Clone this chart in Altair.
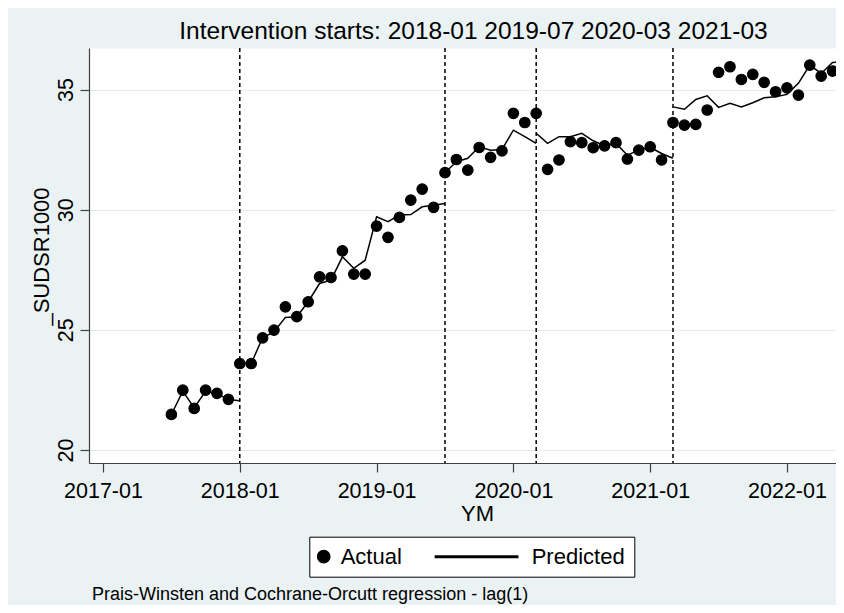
import altair as alt
import pandas as pd

FONT = "Liberation Sans"

# ---- data ----
first_month = "2017-07"
last_month = "2022-06"
actual = [
    21.48, 22.49, 21.73, 22.49, 22.36, 22.11,                               # 2017-07..12
    23.60, 23.60, 24.67, 24.99, 25.96, 25.55, 26.17, 27.21, 27.18, 28.29, 27.32, 27.32,  # 2018
    29.32, 28.85, 29.68, 30.40, 30.86, 30.10, 31.54, 32.09, 31.65, 32.59, 32.18, 32.45,  # 2019
    34.01, 33.63, 34.01, 31.68, 32.07, 32.83, 32.79, 32.58, 32.66, 32.79, 32.11, 32.48,  # 2020
    32.62, 32.07, 33.63, 33.52, 33.55, 34.15, 35.72, 35.95, 35.42, 35.63, 35.30, 34.91,  # 2021
    35.07, 34.77, 36.02, 35.56, 35.77, 35.47,                               # 2022-01..06
]
seg_starts = ["2017-07", "2018-01", "2019-07", "2020-03", "2021-03"]
pred_seg1 = [21.48, 22.45, 21.75, 22.45, 22.35, 22.10, 22.05]
pred_seg2 = [23.60, 23.60, 24.67, 24.92, 25.52, 25.55, 26.17, 26.93, 27.07, 28.04,
             27.56, 27.90, 29.71, 29.50, 29.78, 29.80, 30.12, 30.19, 30.26]
pred_seg3 = [31.54, 32.00, 32.14, 32.62, 32.48, 32.51, 33.31, 33.04, 32.76]
pred_seg4 = [33.18, 32.76, 33.04, 33.04, 33.18, 32.87, 32.66, 32.76, 32.27, 32.48,
             32.60, 32.34, 32.14]
pred_seg5 = [34.28, 34.18, 34.59, 34.74, 34.26, 34.43, 34.28, 34.45, 34.66, 34.70,
             34.80, 35.26, 36.02, 35.67, 36.13, 36.16]
interventions = ["2018-01", "2019-07", "2020-03", "2021-03"]
tick_months = ["2017-01", "2018-01", "2019-01", "2020-01", "2021-01", "2022-01"]
y_ticks = [20, 25, 30, 35]
series_names = ["Actual", "Predicted"]
title_text = "Intervention starts: " + " ".join(interventions)
footnote = "Prais-Winsten and Cochrane-Orcutt regression - lag(1)"
y_title = "_SUDSR1000"
x_title = "YM"


def idx(s):
    y, m = s.split("-")
    return (int(y) - 2017) * 12 + int(m) - 1


months = [str(p) for p in pd.period_range(first_month, last_month, freq="M")]
df_act = pd.DataFrame({"t": [idx(m) for m in months], "v": actual, "series": "Actual"})

rows = []
for k, (start, vals) in enumerate(zip(seg_starts, [pred_seg1, pred_seg2, pred_seg3, pred_seg4, pred_seg5])):
    s = idx(start)
    for i, v in enumerate(vals):
        rows.append({"t": s + i, "v": v, "seg": k})
df_pred = pd.DataFrame(rows)
df_int = pd.DataFrame({"t": [idx(m) for m in interventions]})
df_note = pd.DataFrame({"txt": [footnote]})

tick_vals = [idx(m) for m in tick_months]
label_expr = "[" + ",".join("'%s'" % m for m in tick_months) + "][round(datum.value/12)]"

x_scale = alt.Scale(domain=[-1.228, 64.3], nice=False, zero=False)
y_scale = alt.Scale(domain=[19.46, 36.73], nice=False, zero=False)

x_enc = alt.X("t:Q", scale=x_scale, title=x_title,
              axis=alt.Axis(values=tick_vals, labelExpr=label_expr, grid=False,
                            labelFontSize=21.5, labelFont=FONT, labelColor="#000",
                            tickSize=9, labelPadding=8, tickColor="#404040",
                            domainColor="#404040", tickWidth=1.2, domainWidth=1.2,
                            titleFontSize=22, titleFont=FONT, titleFontWeight="normal",
                            titleColor="#000", titleX=388, titleY=40,
                            titleAlign="center", titleBaseline="top",
                            labelFlush=False, labelOverlap=False))
y_enc = alt.Y("v:Q", scale=y_scale, title=y_title,
              axis=alt.Axis(values=y_ticks, grid=True, gridColor="#E4EDED", gridWidth=1.2,
                            labelFontSize=21.5, labelFont=FONT, labelColor="#000",
                            labelAngle=270, labelAlign="center", labelBaseline="alphabetic",
                            tickSize=9, labelPadding=8, tickColor="#404040",
                            domainColor="#404040", tickWidth=1.2, domainWidth=1.2,
                            titleFontSize=22, titleFont=FONT, titleFontWeight="normal",
                            titleColor="#000", titleAngle=270, titleX=-41, titleY=208,
                            titleAlign="center", titleBaseline="alphabetic",
                            labelFlush=False, labelOverlap=False))

rules = alt.Chart(df_int).mark_rule(color="black", strokeWidth=1.5, strokeDash=[4, 3]).encode(
    x=alt.X("t:Q", scale=x_scale)
)

line = alt.Chart(df_pred).mark_line(color="black", strokeWidth=1.5, clip=True).encode(
    x=x_enc, y=y_enc, detail="seg:N"
)

# legend glyph for "Predicted": a thin filled bar (drawn left of its label)
pred_glyph = "M-12.95,-0.12L0.49,-0.12L0.49,0.12L-12.95,0.12Z"

points = alt.Chart(df_act).mark_point(filled=True, size=110, opacity=1, color="black",
                                      fill="black", stroke="black", strokeWidth=1.2,
                                      clip=True).encode(
    x=alt.X("t:Q", scale=x_scale),
    y=alt.Y("v:Q", scale=y_scale),
    shape=alt.Shape("series:N",
                    scale=alt.Scale(domain=series_names, range=["circle", pred_glyph]),
                    legend=alt.Legend(title=None, orient="none", legendX=220.3, legendY=488.7,
                                      direction="horizontal", columns=2,
                                      symbolSize=150, symbolFillColor="black",
                                      symbolOpacity=1, symbolOffset=-5.6,
                                      labelFontSize=22, labelFont=FONT, labelColor="#000",
                                      labelOffset=6, columnPadding=30, padding=9,
                                      strokeColor="black", fillColor="white",
                                      cornerRadius=0)),
)

note = alt.Chart(df_note).mark_text(align="left", baseline="alphabetic", fontSize=18,
                                    font=FONT, color="#000").encode(
    x=alt.value(3), y=alt.value(552), text="txt:N"
)

chart = alt.layer(rules, line, points, note).properties(
    width=747, height=415,
    autosize=alt.AutoSizeParams(type="none"),
    padding={"left": 81, "top": 40, "right": 0, "bottom": 142},
    title=alt.Title(title_text, fontSize=24.5, font=FONT, fontWeight="normal", color="#000",
                    anchor="middle", dx=11, dy=25.5, offset=9, baseline="alphabetic",
                    frame="group"),
).configure(background="#EAF2F3").configure_view(fill="white", stroke="transparent")

chart.save("out.html", embed_options={"renderer": "svg", "actions": False})
